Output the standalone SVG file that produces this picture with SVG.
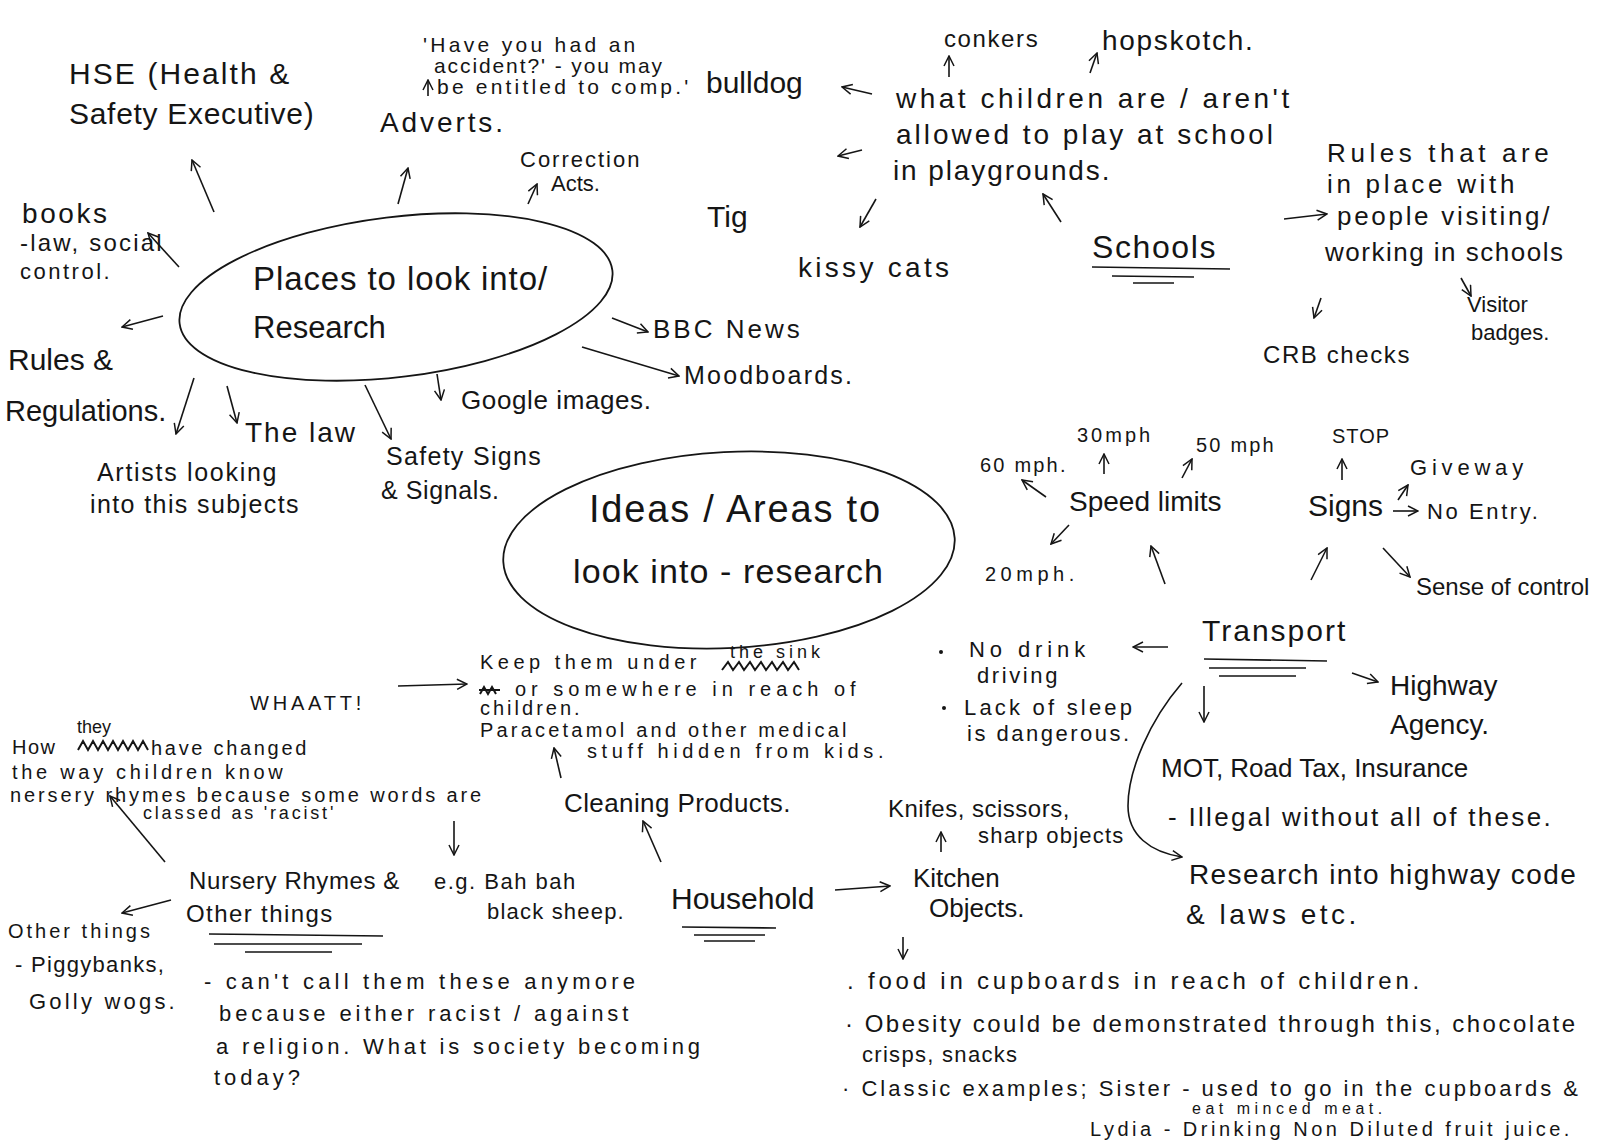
<svg xmlns="http://www.w3.org/2000/svg" width="1600" height="1142" viewBox="0 0 1600 1142">
<style>
text{font-family:"Liberation Sans",Arial,sans-serif;fill:#151515}
.c line,.c path{stroke:#151515;stroke-width:1.6;fill:none;marker-end:url(#a)}
.u{stroke:#151515;stroke-width:1.6;fill:none}
.o{stroke:#151515;stroke-width:1.8;fill:none}
.s{stroke:#151515;stroke-width:2;fill:none}
</style>
<defs>
<marker id="a" viewBox="0 0 12 12" refX="11" refY="6" markerWidth="12" markerHeight="12" markerUnits="userSpaceOnUse" orient="auto">
<path d="M1,1 L11,6 L1,11" fill="none" stroke="#151515" stroke-width="1.5"/>
</marker>
</defs>
<rect width="1600" height="1142" fill="#fff"/>

<g id="places">
<ellipse class="o" cx="396" cy="297" rx="218" ry="80" transform="rotate(-7 396 297)"/>
<text x="253" y="290" font-size="33" letter-spacing="0.9">Places to look into/</text>
<text x="253" y="338" font-size="31">Research</text>
</g>
<g id="ideas">
<ellipse class="o" cx="729" cy="550" rx="226" ry="98" transform="rotate(-3 729 550)"/>
<text x="589" y="522" font-size="38" letter-spacing="1.8">Ideas / Areas to</text>
<text x="573" y="583" font-size="34" letter-spacing="1.1">look into - research</text>
</g>

<g id="hse"><text x="69" y="84" font-size="30" letter-spacing="2.1">HSE (Health &amp;</text><text x="69" y="124" font-size="30" letter-spacing="0.7">Safety Executive)</text></g>
<g id="quote">
<text x="423" y="52" font-size="21" letter-spacing="3.3">'Have you had an</text>
<text x="434" y="73" font-size="21" letter-spacing="1.9">accident?' - you may</text>
<text x="437" y="94" font-size="21" letter-spacing="3.2">be entitled to comp.'</text>
</g>
<g id="bulldog"><text x="706" y="93" font-size="30">bulldog</text></g>
<g id="adverts"><text x="380" y="132" font-size="28" letter-spacing="2.9">Adverts.</text></g>
<g id="correction"><text x="520" y="167" font-size="22" letter-spacing="2">Correction</text><text x="551" y="191" font-size="22">Acts.</text></g>
<g id="tig"><text x="707" y="227" font-size="30">Tig</text></g>
<g id="books"><text x="22" y="223" font-size="28" letter-spacing="2.6">books</text><text x="20" y="251" font-size="24" letter-spacing="2.2">-law, social</text><text x="20" y="279" font-size="22" letter-spacing="2.5">control.</text></g>
<g id="rules"><text x="8" y="370" font-size="30">Rules &amp;</text><text x="5" y="421" font-size="29">Regulations.</text></g>
<g id="law"><text x="245" y="442" font-size="28" letter-spacing="2">The law</text></g>
<g id="safety"><text x="386" y="465" font-size="25" letter-spacing="1.3">Safety Signs</text><text x="381" y="499" font-size="25" letter-spacing="0.6">&amp; Signals.</text></g>
<g id="artists"><text x="97" y="481" font-size="25" letter-spacing="1.7">Artists looking</text><text x="90" y="513" font-size="25" letter-spacing="1.4">into this subjects</text></g>
<g id="google"><text x="461" y="409" font-size="26" letter-spacing="0.6">Google images.</text></g>
<g id="bbc"><text x="653" y="338" font-size="26" letter-spacing="3">BBC News</text></g>
<g id="mood"><text x="684" y="384" font-size="25" letter-spacing="2.2">Moodboards.</text></g>

<g id="conkers"><text x="944" y="47" font-size="24" letter-spacing="1.6">conkers</text></g>
<g id="hopskotch"><text x="1102" y="50" font-size="28" letter-spacing="1.7">hopskotch.</text></g>
<g id="play">
<text x="896" y="108" font-size="28" letter-spacing="3.5">what children are / aren't</text>
<text x="896" y="144" font-size="28" letter-spacing="3">allowed to play at school</text>
<text x="893" y="180" font-size="28" letter-spacing="1.9">in playgrounds.</text>
</g>
<g id="kissy"><text x="798" y="277" font-size="28" letter-spacing="3.3">kissy cats</text></g>
<g id="schools">
<text x="1092" y="258" font-size="32" letter-spacing="1.6">Schools</text>
<path class="u" d="M1092,267 L1230,269 M1112,276 L1194,277 M1133,283 L1174,283"/>
</g>
<g id="visiting">
<text x="1327" y="162" font-size="26" letter-spacing="4.6">Rules that are</text>
<text x="1327" y="193" font-size="26" letter-spacing="3.7">in place with</text>
<text x="1337" y="225" font-size="26" letter-spacing="2.7">people visiting/</text>
<text x="1325" y="261" font-size="26" letter-spacing="1.5">working in schools</text>
</g>
<g id="crb"><text x="1263" y="363" font-size="24" letter-spacing="1.6">CRB checks</text></g>
<g id="badges"><text x="1467" y="312" font-size="22">Visitor</text><text x="1471" y="340" font-size="22">badges.</text></g>

<g id="speed"><text x="1069" y="511" font-size="28">Speed limits</text></g>
<g id="mph30"><text x="1077" y="442" font-size="20" letter-spacing="3">30mph</text></g>
<g id="mph50"><text x="1196" y="452" font-size="20" letter-spacing="2.2">50 mph</text></g>
<g id="mph60"><text x="980" y="472" font-size="20" letter-spacing="2.2">60 mph.</text></g>
<g id="mph20"><text x="985" y="581" font-size="20" letter-spacing="4.5">20mph.</text></g>
<g id="signs"><text x="1308" y="516" font-size="30">Signs</text></g>
<g id="stop"><text x="1332" y="443" font-size="20" letter-spacing="1">STOP</text></g>
<g id="giveway"><text x="1410" y="475" font-size="22" letter-spacing="4.8">Giveway</text></g>
<g id="noentry"><text x="1427" y="519" font-size="22" letter-spacing="2.6">No Entry.</text></g>
<g id="control"><text x="1416" y="595" font-size="24">Sense of control</text></g>
<g id="transport">
<text x="1202" y="641" font-size="30" letter-spacing="2">Transport</text>
<path class="u" d="M1204,659 L1327,661 M1209,668 L1306,668 M1219,676 L1296,676"/>
</g>
<g id="drink">
<circle cx="941" cy="652" r="2" fill="#151515"/>
<text x="969" y="657" font-size="22" letter-spacing="4.9">No drink</text>
<text x="977" y="683" font-size="22" letter-spacing="2.6">driving</text>
<circle cx="944" cy="708" r="2" fill="#151515"/>
<text x="964" y="715" font-size="22" letter-spacing="3.2">Lack of sleep</text>
<text x="967" y="741" font-size="22" letter-spacing="2.5">is dangerous.</text>
</g>
<g id="highway"><text x="1390" y="695" font-size="28">Highway</text><text x="1390" y="734" font-size="28">Agency.</text></g>
<g id="mot"><text x="1161" y="777" font-size="26">MOT, Road Tax, Insurance</text><text x="1168" y="826" font-size="26" letter-spacing="2.3">- Illegal without all of these.</text></g>
<g id="highwaycode"><text x="1189" y="884" font-size="28" letter-spacing="1.4">Research into highway code</text><text x="1186" y="924" font-size="28" letter-spacing="3.5">&amp; laws etc.</text></g>

<g id="whaatt"><text x="250" y="710" font-size="20" letter-spacing="3.8">WHAATT!</text></g>
<g id="keep">
<text x="480" y="669" font-size="20" letter-spacing="4.5">Keep them under</text>
<text x="730" y="658" font-size="18" letter-spacing="4">the sink</text>
<path class="s" d="M722,670 l6,-8 l5,8 l6,-8 l5,8 l6,-8 l5,8 l6,-8 l5,8 l6,-8 l5,8 l6,-8 l5,8 l6,-8 l5,8"/>
<path class="s" d="M480,694 l4,-7 l4,7 l4,-7 l4,7 M479,690 L500,690"/>
<text x="515" y="696" font-size="20" letter-spacing="5">or somewhere in reach of</text>
<text x="480" y="715" font-size="20" letter-spacing="3">children.</text>
<text x="480" y="737" font-size="20" letter-spacing="3.2">Paracetamol and other medical</text>
<text x="587" y="758" font-size="20" letter-spacing="4.6">stuff hidden from kids.</text>
</g>
<g id="cleaning"><text x="564" y="812" font-size="26" letter-spacing="0.4">Cleaning Products.</text></g>
<g id="household">
<text x="671" y="909" font-size="30">Household</text>
<path class="u" d="M682,927 L776,928 M694,935 L765,935 M704,941 L755,941"/>
</g>
<g id="kitchen"><text x="913" y="887" font-size="26">Kitchen</text><text x="929" y="917" font-size="26">Objects.</text></g>
<g id="knifes"><text x="888" y="817" font-size="24" letter-spacing="0.5">Knifes, scissors,</text><text x="978" y="843" font-size="22" letter-spacing="1.2">sharp objects</text></g>
<g id="food">
<text x="847" y="989" font-size="24" letter-spacing="3.8">. food in cupboards in reach of children.</text>
<text x="845" y="1032" font-size="24" letter-spacing="2.5">· Obesity could be demonstrated through this, chocolate</text>
<text x="862" y="1062" font-size="22" letter-spacing="1.3">crisps, snacks</text>
<text x="842" y="1096" font-size="22" letter-spacing="3">· Classic examples; Sister - used to go in the cupboards &amp;</text>
<text x="1192" y="1114" font-size="16" letter-spacing="4.5">eat minced meat.</text>
<text x="1090" y="1136" font-size="20" letter-spacing="3.5">Lydia - Drinking Non Diluted fruit juice.</text>
</g>

<g id="society">
<text x="77" y="733" font-size="18">they</text>
<text x="12" y="754" font-size="20" letter-spacing="1.5">How</text>
<path class="s" d="M78,750 l5,-9 l5,9 l5,-9 l5,9 l5,-9 l5,9 l5,-9 l5,9 l5,-9 l5,9 l5,-9 l5,9 l5,-9 l5,9"/>
<text x="151" y="755" font-size="20" letter-spacing="2.7">have changed</text>
<text x="12" y="779" font-size="20" letter-spacing="3.7">the way children know</text>
<text x="10" y="802" font-size="20" letter-spacing="2.9">nersery rhymes because some words are</text>
<text x="143" y="819" font-size="18" letter-spacing="2.8">classed as 'racist'</text>
</g>
<g id="nursery">
<text x="189" y="889" font-size="24" letter-spacing="0.6">Nursery Rhymes &amp;</text>
<text x="186" y="922" font-size="24" letter-spacing="1.4">Other things</text>
<path class="u" d="M209,934 L383,936 M214,944 L362,944 M245,952 L332,952"/>
</g>
<g id="bahbah"><text x="434" y="889" font-size="22" letter-spacing="1.5">e.g. Bah bah</text><text x="487" y="919" font-size="22" letter-spacing="1.2">black sheep.</text></g>
<g id="otherthings"><text x="8" y="938" font-size="20" letter-spacing="3">Other things</text><text x="15" y="972" font-size="22" letter-spacing="1.3">- Piggybanks,</text><text x="29" y="1009" font-size="22" letter-spacing="3.2">Golly wogs.</text></g>
<g id="cantcall">
<text x="204" y="989" font-size="22" letter-spacing="4.2">- can't call them these anymore</text>
<text x="219" y="1021" font-size="22" letter-spacing="3.9">because either racist / against</text>
<text x="216" y="1054" font-size="22" letter-spacing="3.8">a religion. What is society becoming</text>
<text x="214" y="1085" font-size="22" letter-spacing="4">today?</text>
</g>

<g id="connectors" class="c">
<line x1="214" y1="212" x2="192" y2="160"/>
<line x1="398" y1="204" x2="408" y2="168"/>
<line x1="528" y1="204" x2="537" y2="184"/>
<line x1="179" y1="267" x2="148" y2="233"/>
<line x1="163" y1="316" x2="122" y2="327"/>
<line x1="194" y1="378" x2="176" y2="434"/>
<line x1="227" y1="386" x2="237" y2="423"/>
<line x1="365" y1="385" x2="391" y2="439"/>
<line x1="437" y1="374" x2="441" y2="400"/>
<line x1="612" y1="318" x2="648" y2="332"/>
<line x1="582" y1="347" x2="679" y2="376"/>
<line x1="428" y1="96" x2="428" y2="80"/>
<line x1="872" y1="94" x2="842" y2="87"/>
<line x1="949" y1="77" x2="949" y2="56"/>
<line x1="1090" y1="73" x2="1097" y2="53"/>
<line x1="862" y1="150" x2="838" y2="156"/>
<line x1="876" y1="199" x2="860" y2="227"/>
<line x1="1061" y1="222" x2="1043" y2="194"/>
<line x1="1284" y1="219" x2="1327" y2="214"/>
<line x1="1321" y1="298" x2="1314" y2="318"/>
<line x1="1461" y1="278" x2="1471" y2="296"/>
<line x1="1104" y1="474" x2="1104" y2="454"/>
<line x1="1182" y1="478" x2="1192" y2="459"/>
<line x1="1046" y1="497" x2="1022" y2="480"/>
<line x1="1069" y1="525" x2="1051" y2="544"/>
<line x1="1165" y1="584" x2="1151" y2="546"/>
<line x1="1342" y1="480" x2="1342" y2="459"/>
<line x1="1398" y1="500" x2="1408" y2="485"/>
<line x1="1393" y1="511" x2="1418" y2="511"/>
<line x1="1311" y1="580" x2="1327" y2="548"/>
<line x1="1383" y1="548" x2="1410" y2="577"/>
<line x1="1168" y1="647" x2="1133" y2="647"/>
<line x1="1204" y1="686" x2="1204" y2="722"/>
<line x1="1352" y1="673" x2="1378" y2="682"/>
<path d="M1182,683 C1150,720 1128,770 1128,806 C1128,835 1150,852 1182,857"/>
<line x1="398" y1="686" x2="467" y2="684"/>
<line x1="561" y1="778" x2="554" y2="748"/>
<line x1="661" y1="862" x2="643" y2="821"/>
<line x1="835" y1="890" x2="890" y2="886"/>
<line x1="941" y1="852" x2="941" y2="832"/>
<line x1="903" y1="937" x2="903" y2="959"/>
<line x1="165" y1="862" x2="110" y2="796"/>
<line x1="454" y1="821" x2="454" y2="855"/>
<line x1="171" y1="900" x2="122" y2="913"/>
</g>
</svg>
